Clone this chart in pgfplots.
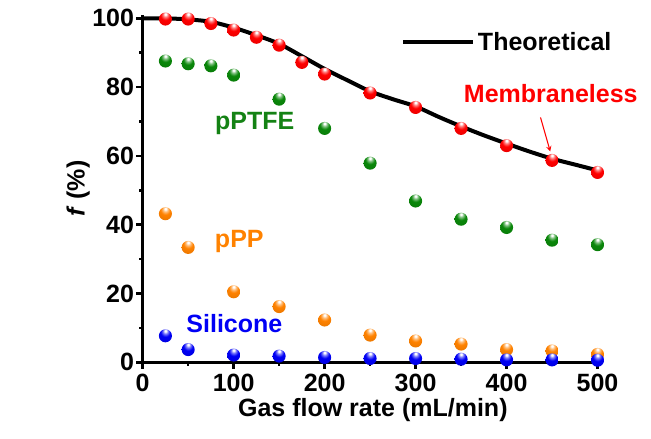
\documentclass[border=0pt]{standalone}
\usepackage{pgfplots}
\pgfplotsset{compat=1.18}
\usepackage{fontspec}
\setmainfont{Liberation Sans}
\definecolor{mgreen}{RGB}{10,135,10}
\definecolor{morange}{RGB}{255,130,0}
\definecolor{mblue}{RGB}{0,0,245}
\definecolor{mred}{RGB}{255,0,0}
\definecolor{tgreen}{RGB}{20,130,20}
\newcommand{\bigf}{\fontsize{18.75}{22}\selectfont\bfseries}
\newcommand\declball[2]{%
  \pgfdeclareradialshading{ball#1}{\pgfqpoint{0bp}{20bp}}{%
    color(0bp)=(white); color(3bp)=(white); color(9bp)=(#2!50!white);
    color(18bp)=(#2); color(45bp)=(#2!88!black); color(70bp)=(#2!70!black)}%
  \pgfdeclareplotmark{ball#1}{%
    \pgfpathcircle{\pgfpointorigin}{\pgfplotmarksize}%
    \pgfshadepath{ball#1}{0}\pgfusepath{}}}
\declball{red}{mred}
\declball{green}{mgreen}
\declball{orange}{morange}
\declball{blue}{mblue}
\begin{document}
\begin{tikzpicture}
\path[use as bounding box] (-107pt,-57.5pt) rectangle (381.2pt,271.7pt);
\begin{axis}[
  at={(0,0)}, anchor=south west,
  scale only axis, width=345.2pt, height=260.5pt,
  xmin=0, xmax=506, ymin=0, ymax=101,
  axis x line*=bottom, axis y line*=left,
  axis line style={line width=2.2pt},
  every tick/.style={black, line width=2pt},
  tick align=outside,
  major tick length=5pt, minor tick length=2.6pt,
  xtick={0,100,...,500}, ytick={0,20,...,100},
  minor x tick num=1, minor y tick num=1,
  /pgf/number format/assume math mode=true,
  tick label style={font=\bigf},
  label style={font=\bigf},
  xlabel={Gas flow rate (mL/min)},
  ylabel={\textit{f} (\%)},
  xlabel style={yshift=2pt},
  ylabel style={yshift=-5pt},
  yticklabel style={xshift=2pt},
  legend style={draw=none, fill=none, at={(axis cs:284,93)}, anchor=west, inner sep=0pt, font=\bigf},
  legend image code/.code={\draw[#1, line width=3pt] (0pt,0pt) -- (52.5pt,0pt);},
  clip=false,
]
\addplot[black, line width=3pt, smooth, tension=0.5] coordinates {
 (0,100) (25,100) (50,99.7) (75,99.0) (100,97.3) (125,95.1) (150,92.6) (175,89.0)
 (200,85.3) (225,82.0) (250,78.8) (275,76.5) (300,74.4) (325,71.4) (350,68.6)
 (375,66.0) (400,63.6) (425,61.3) (450,59.2) (475,57.5) (497,56.0)};
\addlegendentry{Theoretical}
\addplot[only marks, mark=ballgreen, mark size=4.9pt, forget plot] coordinates {
 (25,87.6) (50,86.8) (75,86.2) (100,83.5) (150,76.5) (200,68.0) (250,57.9)
 (300,46.9) (350,41.6) (400,39.2) (450,35.5) (500,34.2)};
\addplot[only marks, mark=ballorange, mark size=4.9pt, forget plot] coordinates {
 (25,43.2) (50,33.4) (100,20.5) (150,16.2) (200,12.3) (250,7.9)
 (300,6.2) (350,5.3) (400,3.7) (450,3.3) (500,2.3)};
\addplot[only marks, mark=ballblue, mark size=4.9pt, forget plot] coordinates {
 (25,7.7) (50,3.7) (100,2.1) (150,1.8) (200,1.4) (250,1.1)
 (300,1.1) (350,0.9) (400,0.7) (450,0.7) (500,0.6)};
\addplot[only marks, mark=ballred, mark size=4.9pt, forget plot] coordinates {
 (25,99.8) (50,99.8) (75,98.5) (100,96.6) (125,94.5) (150,92.2) (175,87.2) (200,83.8)
 (250,78.3) (300,74.1) (350,68.0) (400,63.0) (450,58.7) (500,55.2)};
\node[font=\bigf, text=tgreen] at (axis cs:123.2,69.3) {pPTFE};
\node[font=\bigf, text=morange] at (axis cs:106.2,35.0) {pPP};
\node[font=\bigf, text=mblue] at (axis cs:100.8,11.3) {Silicone};
\node[font=\bigf, text=mred] at (axis cs:448.6,78.1) {Membraneless};
\draw[mred, line width=0.8pt, -stealth] (axis cs:437.3,71.2) -- (axis cs:448.0,61.3);
\end{axis}
\end{tikzpicture}
\end{document}
